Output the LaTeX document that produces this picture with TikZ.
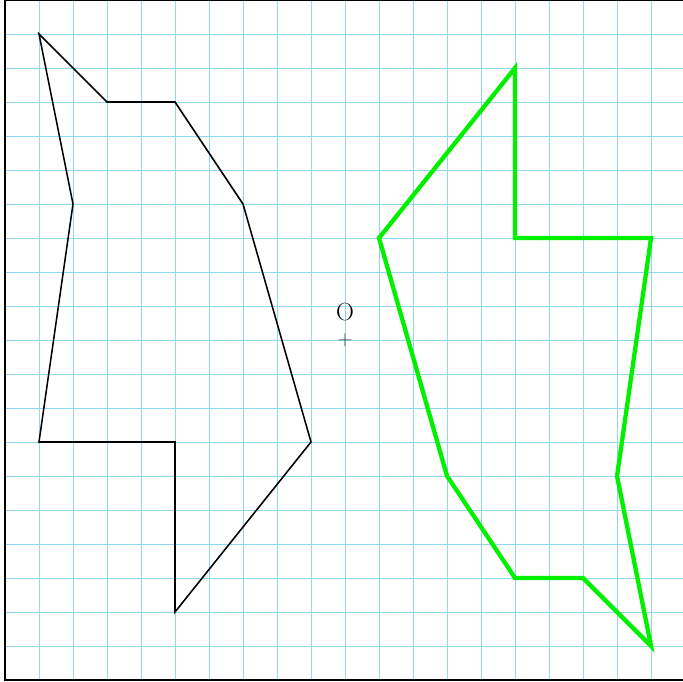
\documentclass[tikz,border=0pt]{standalone}
\usepackage{tikz}
\usetikzlibrary{positioning}
\definecolor{gridCyan}{HTML}{8ED8F2}
\definecolor{imgGreen}{HTML}{00F000}
\tikzset{
  gridline/.style={draw=gridCyan, line width=0.7pt},
  frameline/.style={draw=black, line width=1.3pt},
  origfig/.style={draw=black, line width=1.3pt},
  imagefig/.style={draw=imgGreen, line width=3.6pt},
  centremark/.style={font=\LARGE, text=black!75, inner sep=0pt},
  centrelabel/.style={font=\huge, inner sep=0pt}
}
\begin{document}
\begin{tikzpicture}
  \useasboundingbox (-10.147,-10.03) rectangle (9.94,10);
  \draw[gridline] (-10,-10) grid (10,10);
  \draw[frameline] (-10,-10) rectangle (10,10);
  % original figure
  \draw[origfig] (-9,9) -- (-7,7) -- (-5,7) -- (-3,4) -- (-1,-3) -- (-5,-8)
    -- (-5,-3) -- (-9,-3) -- (-8,4) -- cycle;
  % its image by the half-turn about O
  \draw[imagefig] (9,-9) -- (7,-7) -- (5,-7) -- (3,-4) -- (1,3) -- (5,8)
    -- (5,3) -- (9,3) -- (8,-4) -- cycle;
  \node[centremark] (o) at (0,0) {$+$};
  \node[centrelabel, above=0.82 of o.center, anchor=center] (olab) {O};
\end{tikzpicture}
\end{document}
